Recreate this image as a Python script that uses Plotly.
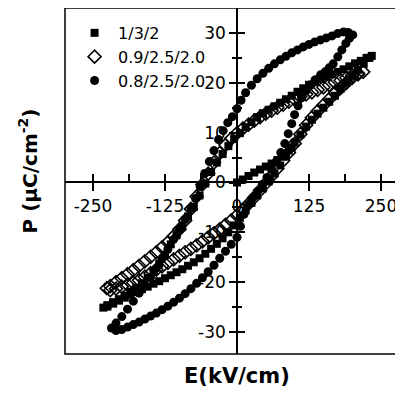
import plotly.graph_objects as go

# ---- data: P-E hysteresis loops, E in kV/cm, P in uC/cm^2 ----
# 1/3/2 (filled squares): initial curve, descending branch, ascending branch
sq_init_E = [0, 10, 20, 30, 40, 50, 60, 70, 80, 90, 100, 110, 120, 130, 140, 150, 160, 170, 180, 190, 200, 210, 220, 230, 234]
sq_init_P = [0, 0.6, 1.3, 2.0, 2.6, 3.2, 3.8, 4.5, 5.2, 6.4, 8.0, 9.6, 11.2, 12.6, 13.8, 15.0, 16.2, 17.4, 18.8, 20.0, 21.4, 22.6, 23.8, 25.0, 25.4]
sq_down_E = [225, 215, 205, 195, 185, 175, 165, 155, 145, 135, 125, 115, 105, 95, 85, 75, 65, 55, 45, 35, 25, 15, 5,
             -5, -15, -25, -35, -45, -55, -65, -75, -85, -95, -105, -115, -125, -135, -145, -155, -165, -175, -185,
             -195, -205, -215, -225, -232]
sq_down_P = [25.0, 24.4, 23.9, 23.3, 22.7, 22.2, 21.7, 21.2, 20.7, 20.2, 19.6, 18.9, 18.2, 17.4, 16.7, 16.0, 15.3, 14.6,
             13.9, 13.1, 12.1, 11.1, 9.9, 8.7, 7.3, 5.7, 4.0, 2.1, -0.2, -2.6, -4.9, -6.8, -8.8, -10.6, -12.4, -14.5,
             -16.3, -17.9, -19.1, -20.2, -21.1, -21.9, -22.7, -23.4, -24.0, -24.6, -25.1]
sq_up_E = [-225, -215, -205, -195, -185, -175, -165, -155, -145, -135, -125, -115, -105, -95, -85, -75, -65, -55, -45,
           -35, -25, -15, -5, 5, 15, 25, 35, 45, 55, 65, 75, 85, 95]
sq_up_P = [-24.9, -24.3, -23.7, -23.1, -22.5, -22.0, -21.4, -20.9, -20.3, -19.8, -19.2, -18.6, -18.0, -17.4, -16.7,
           -16.0, -15.2, -14.3, -13.3, -12.3, -11.2, -10.0, -8.6, -7.1, -5.6, -4.1, -2.6, -1.2, 0.2, 1.8, 3.4, 5.2, 7.0]

# 0.9/2.5/2.0 (open diamonds)
di_down_E = [219, 210, 200, 190, 180, 170, 160, 150, 140, 130, 120, 110, 100, 90, 80, 70, 60, 50, 40, 30, 20, 10, 0,
             -10, -20, -30, -40, -50, -60, -70, -80, -90, -100, -110, -120, -130, -140, -150, -160, -170, -180, -190,
             -200, -210, -220, -226]
di_down_P = [22.2, 21.9, 21.5, 21.0, 20.5, 20.1, 19.6, 19.1, 18.6, 18.1, 17.7, 17.2, 16.7, 16.2, 15.6, 15.0, 14.4, 13.8,
             13.1, 12.4, 11.6, 10.8, 9.9, 8.8, 7.5, 5.9, 4.0, 1.8, -0.4, -2.8, -5.3, -7.6, -9.4, -10.8, -12.0, -13.0,
             -14.0, -14.9, -15.8, -16.7, -17.6, -18.4, -19.2, -20.0, -20.8, -21.2]
di_up_E = [-220, -210, -200, -190, -180, -170, -160, -150, -140, -130, -120, -110, -100, -90, -80, -70, -60, -50, -40,
           -30, -20, -10, 0, 10, 20, 30, 40, 50, 60, 70, 80, 90, 100, 110, 120, 130, 140, 150, 160, 170, 180, 190,
           200, 210]
di_up_P = [-21.6, -21.3, -20.9, -20.5, -20.1, -19.6, -18.9, -18.2, -17.5, -16.8, -16.1, -15.4, -14.7, -14.0, -13.3,
           -12.6, -11.8, -11.0, -10.2, -9.4, -8.5, -7.6, -6.6, -5.5, -4.3, -3.0, -1.6, -0.2, 1.3, 2.8, 4.4, 6.0, 7.8,
           9.7, 11.5, 13.0, 14.3, 15.5, 16.7, 17.9, 19.0, 20.0, 21.0, 21.7]

# 0.8/2.5/2.0 (filled circles)
ci_down_E = [201, 193, 185, 175, 165, 155, 145, 135, 125, 115, 105, 95, 85, 75, 65, 55, 45, 35, 25, 15, 7, 0, -8, -16,
             -24, -32, -40, -48, -56, -64, -72, -80, -90, -100, -110, -120, -130, -140, -150, -160, -170, -180, -190,
             -200, -210, -218]
ci_down_P = [29.6, 30.1, 30.2, 29.9, 29.4, 29.0, 28.6, 28.2, 27.7, 27.2, 26.6, 26.0, 25.3, 24.6, 23.8, 22.9, 21.9,
             20.8, 19.5, 18.0, 16.5, 14.8, 13.2, 12.0, 10.4, 8.6, 6.4, 4.2, 1.8, -0.8, -3.2, -5.2, -7.4, -9.4, -11.4,
             -13.4, -15.3, -17.2, -19.0, -20.6, -22.2, -23.8, -25.4, -26.9, -28.2, -29.2]
ci_up_E = [-210, -200, -190, -180, -170, -160, -150, -140, -130, -120, -110, -100, -90, -80, -70, -60, -50, -40, -30,
           -20, -10, 0, 6, 12, 20, 28, 36, 44, 52, 60, 68, 76, 83, 89, 95, 100, 106, 112, 120, 128, 136, 145, 153,
           160, 167, 175, 182, 189, 195]
ci_up_P = [-29.7, -29.5, -29.0, -28.5, -28.0, -27.4, -26.8, -26.2, -25.5, -24.8, -24.0, -23.2, -22.3, -21.3, -20.2,
           -19.1, -17.9, -16.6, -15.2, -13.8, -12.4, -11.0, -8.8, -6.4, -4.4, -3.0, -1.8, -0.4, 1.0, 2.6, 4.2, 6.0,
           7.8, 9.8, 11.8, 13.6, 15.4, 17.0, 18.4, 19.6, 20.6, 21.6, 22.2, 23.0, 23.8, 25.2, 26.6, 27.9, 28.9]

series_names = ["1/3/2", "0.9/2.5/2.0", "0.8/2.5/2.0"]
x_tickvals = [-250, -125, 0, 125, 250]
x_ticktext = ["-250", "-125", "0", "125", "250"]
x_minorvals = [-187.5, -62.5, 62.5, 187.5]
y_tickvals = [-30, -20, -10, 0, 10, 20, 30]
y_ticktext = ["-30", "-20", "-10", "0", "10", "20", "30"]
y_minorvals = [-25, -15, -5, 5, 15, 25]
x_range = [-298.6, 288.2]
y_range = [-34.4, 35.0]

# ---- figure ----
fig = go.Figure()
fig.add_trace(go.Scatter(x=sq_init_E + sq_down_E + sq_up_E, y=sq_init_P + sq_down_P + sq_up_P,
                         mode="markers", name=series_names[0],
                         marker=dict(symbol="square", size=8, color="black")))
fig.add_trace(go.Scatter(x=di_down_E + di_up_E, y=di_down_P + di_up_P,
                         mode="markers", name=series_names[1],
                         marker=dict(symbol="diamond-open", size=10, color="black", line=dict(width=1.6))))
fig.add_trace(go.Scatter(x=ci_down_E + ci_up_E, y=ci_down_P + ci_up_P,
                         mode="markers", name=series_names[2],
                         marker=dict(symbol="circle", size=9, color="black")))
# helper trace so the overlay axes (inward ticks) are drawn
fig.add_trace(go.Scatter(x=[None], y=[None], xaxis="x2", yaxis="y2", showlegend=False, hoverinfo="skip"))

xpos = (0 - y_range[0]) / (y_range[1] - y_range[0])
ypos = (0 - x_range[0]) / (x_range[1] - x_range[0])
tickfont = dict(family="DejaVu Sans", size=17, color="black")

common_x = dict(range=x_range, showgrid=False, zeroline=False, tickmode="array", tickvals=x_tickvals,
                ticktext=x_ticktext, anchor="free", position=xpos, tickwidth=1.5, tickcolor="black",
                automargin=False)
common_y = dict(range=y_range, showgrid=False, zeroline=False, tickmode="array", tickvals=y_tickvals,
                ticktext=y_ticktext, anchor="free", position=ypos, tickwidth=1.5, tickcolor="black",
                automargin=False)

# the page body adds an 8px offset, so the figure is sized/margined to compensate
fig.update_layout(
    width=395, height=386,
    margin=dict(l=57, r=0, t=0, b=40, autoexpand=False),
    paper_bgcolor="white", plot_bgcolor="white",
    xaxis=dict(**common_x, showline=True, linecolor="black", linewidth=1.5, ticks="outside", ticklen=8,
               tickfont=tickfont, layer="below traces",
               minor=dict(tickvals=x_minorvals, ticks="outside", ticklen=0)),
    yaxis=dict(**common_y, showline=True, linecolor="black", linewidth=1.5, ticks="outside", ticklen=7,
               tickfont=tickfont, layer="below traces",
               minor=dict(tickvals=y_minorvals, ticks="outside", ticklen=4, tickwidth=1.5, tickcolor="black")),
    xaxis2=dict(**common_x, overlaying="x", showline=False, ticks="inside", ticklen=8, showticklabels=False,
                layer="below traces",
                minor=dict(tickvals=x_minorvals, ticks="inside", ticklen=8, tickwidth=1.5, tickcolor="black")),
    yaxis2=dict(**common_y, overlaying="y", showline=False, ticks="inside", ticklen=7, showticklabels=False,
                layer="below traces",
                minor=dict(tickvals=y_minorvals, ticks="inside", ticklen=4, tickwidth=1.5, tickcolor="black")),
    legend=dict(x=0.018, y=0.977, xanchor="left", yanchor="top", bgcolor="rgba(0,0,0,0)",
                font=dict(family="DejaVu Sans", size=16, color="black"), itemwidth=37),
    showlegend=True,
    shapes=[dict(type="rect", xref="paper", yref="paper", x0=0, x1=1, y0=0, y1=1,
                 line=dict(color="black", width=1.5), layer="below")],
    annotations=[
        dict(text="<b>E(kV/cm)</b>", xref="x", yref="paper", x=0, y=-0.064, showarrow=False,
             xanchor="center", yanchor="middle", font=dict(family="DejaVu Sans", size=21, color="black")),
        dict(text="<b>P (μC/cm<sup>-2</sup>)</b>", xref="paper", yref="paper", x=-0.11, y=0.53,
             showarrow=False, textangle=-90, xanchor="center", yanchor="middle",
             font=dict(family="DejaVu Sans", size=20, color="black")),
    ],
)

fig.write_html("out.html")
